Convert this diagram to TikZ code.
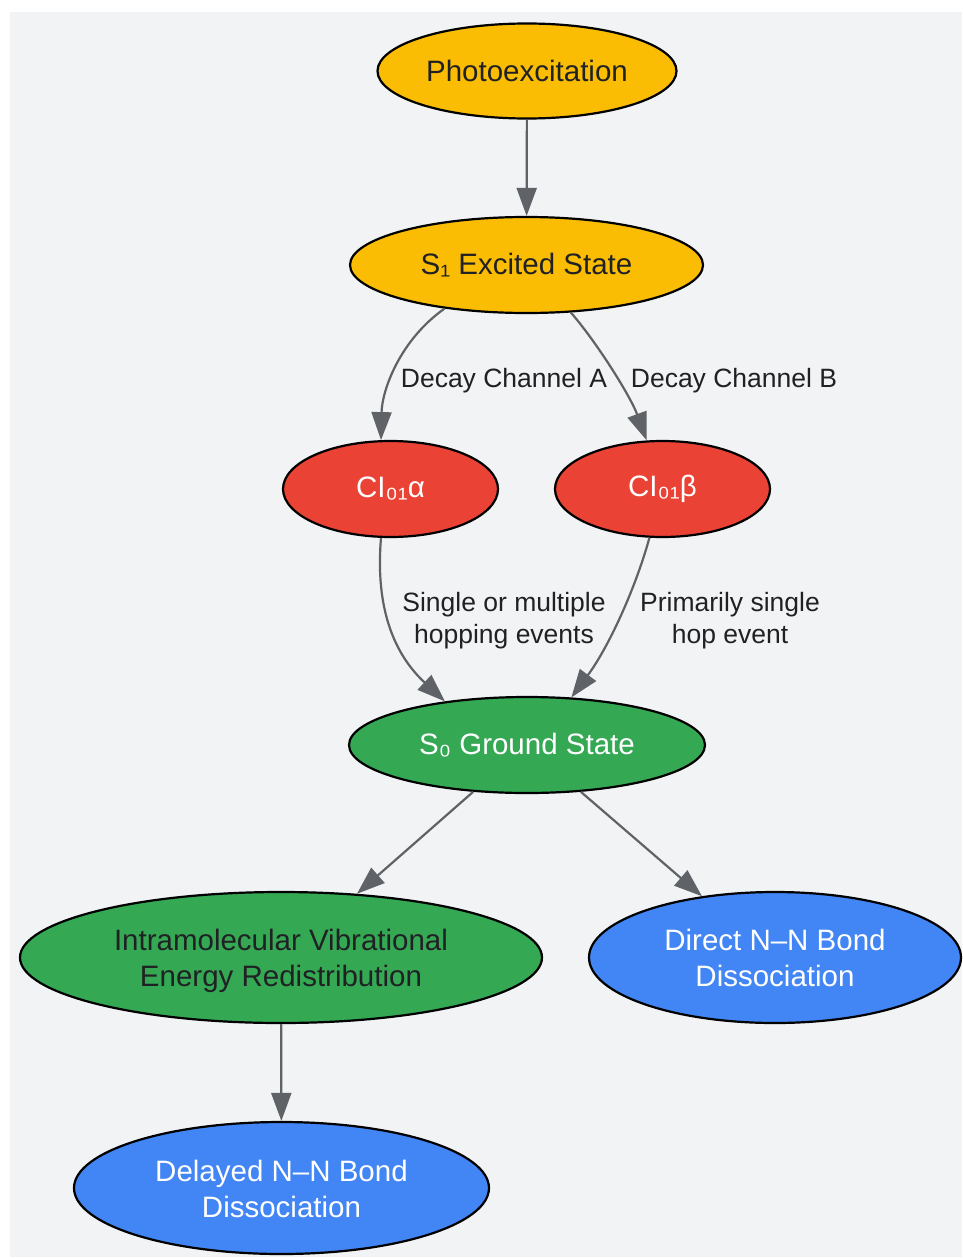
\documentclass[tikz,border=0pt]{standalone}
\usepackage{fontspec}
\setmainfont{Liberation Sans}
\usetikzlibrary{shapes.geometric,arrows.meta}
\definecolor{bgc}{HTML}{F1F3F4}
\definecolor{ylw}{HTML}{FBBC04}
\definecolor{rdc}{HTML}{EA4335}
\definecolor{grn}{HTML}{34A853}
\definecolor{blu}{HTML}{4285F4}
\definecolor{edg}{HTML}{5F6368}
\definecolor{txt}{HTML}{202124}
\newcommand{\twoline}[2]{\raisebox{-4pt}[\height][\depth]{\begin{tabular}{@{}c@{}}#1\\#2\end{tabular}}}
\tikzset{
  ell/.style={ellipse, draw=black, line width=2.2pt, inner sep=0pt, align=center,
    font=\fontsize{29.5}{36}\selectfont},
  yel/.style={ell, fill=ylw, text=txt},
  red/.style={ell, fill=rdc, text=white},
  grd/.style={ell, fill=grn, text=txt},
  grw/.style={ell, fill=grn, text=white},
  blw/.style={ell, fill=blu, text=white},
  conn/.style={draw=edg, line width=2.2pt, -{Triangle[length=28pt,width=20pt]}},
  lbl/.style={text=txt, align=center, inner sep=0pt, font=\fontsize{26.5}{32}\selectfont},
}
\begin{document}
\begin{tikzpicture}[x=1pt,y=-1pt]
\useasboundingbox (0,0) rectangle (962,1258);
\fill[bgc] (10,12) rectangle (962,1257);
\node[yel, minimum width=299pt, minimum height=95pt] (ph) at (527,71) {Photoexcitation};
\node[yel, minimum width=353pt, minimum height=96pt] (s1) at (526.5,265) {S₁ Excited State};
\node[red, minimum width=215pt, minimum height=96pt] (ca) at (390.5,489) {CI₀₁α};
\node[red, minimum width=215pt, minimum height=96pt] (cb) at (662.5,489) {CI₀₁β};
\node[grw, minimum width=356pt, minimum height=96pt] (s0) at (527,745) {S₀ Ground State};
\node[grd, minimum width=522pt, minimum height=131pt] (ivr) at (281,957.5) {\twoline{Intramolecular Vibrational}{Energy Redistribution}};
\node[blw, minimum width=372pt, minimum height=131pt] (dir) at (775,957.5) {\twoline{Direct N–N Bond}{Dissociation}};
\node[blw, minimum width=415pt, minimum height=132pt] (del) at (281.5,1188) {\twoline{Delayed N–N Bond}{Dissociation}};

\draw[conn] (ph) -- (s1);
\draw[conn] (s1.208) .. controls (400,340) and (382,390) .. (ca.101);
\draw[conn] (s1.-47) .. controls (595,340) and (630,395) .. (cb.108);
\draw[conn] (ca.-101) .. controls (375,610) and (395,655) .. (s0.152);
\draw[conn] (cb.-105) .. controls (635,590) and (608,648) .. (s0.47);
\draw[conn] (s0.-139) -- (ivr.40);
\draw[conn] (s0.-41) -- (dir.140);
\draw[conn] (ivr) -- (del);

\node[lbl] (la) at (504,381) {Decay Channel A};
\node[lbl] (lb) at (734,381) {Decay Channel B};
\node[lbl] (lc) at (504,621) {Single or multiple\\hopping events};
\node[lbl] (ld) at (730,621) {Primarily single\\hop event};
\end{tikzpicture}
\end{document}
